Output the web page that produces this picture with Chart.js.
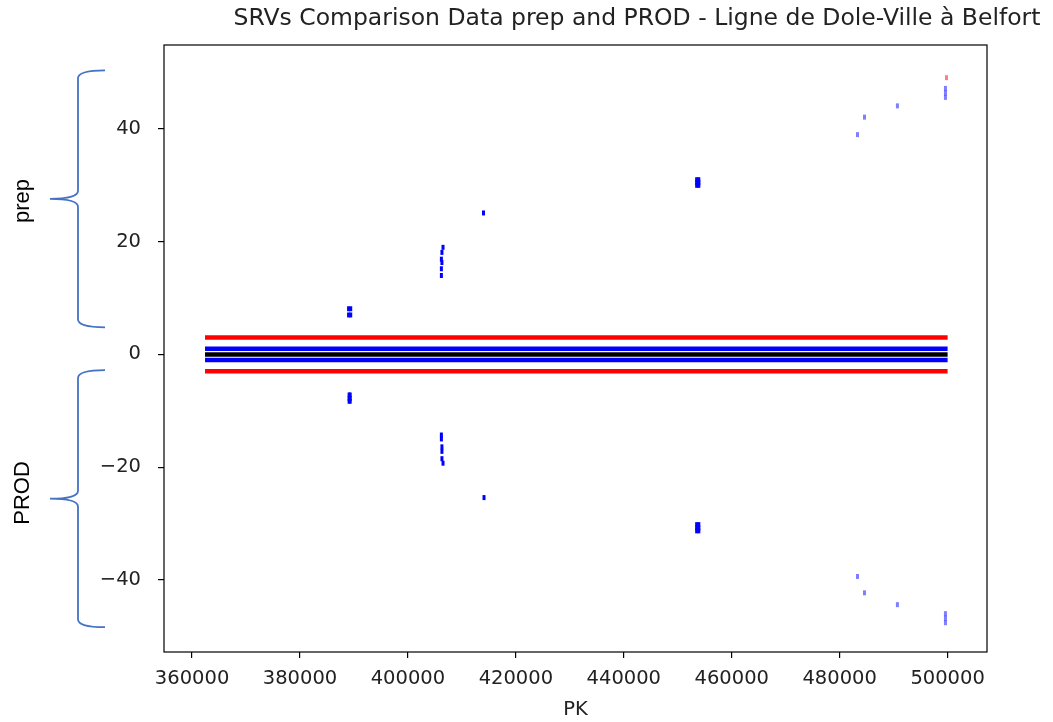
<!DOCTYPE html>
<html>
<head>
<meta charset="utf-8">
<script src="https://cdn.jsdelivr.net/npm/chart.js@4"></script>
<style>
  html, body { margin: 0; padding: 0; background: #fff; }
  #wrap { width: 1053px; height: 722px; }
</style>
</head>
<body>
<div id="wrap"><canvas id="chart" width="1053" height="722"></canvas></div>
<script>
// Data
const titleText = 'SRVs Comparison Data prep and PROD - Ligne de Dole-Ville à Belfort';
const xTicks = [360000, 380000, 400000, 420000, 440000, 460000, 480000, 500000];
const yTicks = [-40, -20, 0, 20, 40];

// reference lines spanning the line
const lineRange = [362400, 500000];
const redLevels = [3, -3];
const blueLevels = [1, -1];
const blackLevels = [0];

// SRV marks (prep above, PROD below)
const prepPK = [389000, 389400, 389000, 389400, 406500, 406300, 406200, 406300, 406200, 406200,
  414000, 453500, 453900, 453500, 453900, 453500, 453900];
const prepVal = [8.1, 8.1, 7.0, 7.0, 19.0, 18.1, 16.9, 16.3, 15.2, 14.0,
  25.1, 30.0, 30.0, 30.5, 30.5, 31.0, 31.0];
const prodPK = [389100, 389300, 389100, 389300, 389100, 389300, 406200, 406200, 406300, 406300, 406300, 406500,
  414100, 453500, 453900, 453500, 453900, 453500, 453900];
const prodVal = [-7.2, -7.2, -7.8, -7.8, -8.3, -8.3, -14.3, -15.0, -16.4, -17.2, -18.5, -19.3,
  -25.4, -30.2, -30.2, -30.8, -30.8, -31.3, -31.3];

// lighter marks at the end of the line
const lightPrepPK = [483300, 484600, 490700, 499600, 499600, 499600];
const lightPrepVal = [39.0, 42.1, 44.1, 45.6, 46.4, 47.2];
const lightProdPK = [483300, 484600, 490700, 499600, 499600, 499600];
const lightProdVal = [-39.4, -42.3, -44.4, -46.0, -46.8, -47.6];
const redMarkPK = [499800];
const redMarkVal = [49.1];

// Helpers
function toPoints(xs, ys) {
  return xs.map((x, i) => ({ x: x, y: ys[i] }));
}

function levelLine(level, color, order) {
  return {
    type: 'line',
    data: lineRange.map(x => ({ x: x, y: level })),
    borderColor: color,
    borderWidth: 4.5,
    pointRadius: 0,
    showLine: true,
    order: order,
  };
}

function marks(xs, ys, color) {
  return {
    type: 'scatter',
    data: toPoints(xs, ys),
    pointStyle: 'line',
    rotation: 90,
    radius: 2.5,
    borderWidth: 3,
    borderColor: color,
    backgroundColor: color,
    order: 0,
  };
}

const datasets = [];
redLevels.forEach(l => datasets.push(levelLine(l, '#ff0000', 3)));
blueLevels.forEach(l => datasets.push(levelLine(l, '#0000ff', 2)));
blackLevels.forEach(l => datasets.push(levelLine(l, '#000000', 1)));
datasets.push(marks(prepPK, prepVal, '#0000ff'));
datasets.push(marks(prodPK, prodVal, '#0000ff'));
datasets.push(marks(lightPrepPK, lightPrepVal, 'rgba(0,0,255,0.5)'));
datasets.push(marks(lightProdPK, lightProdVal, 'rgba(0,0,255,0.5)'));
datasets.push(marks(redMarkPK, redMarkVal, 'rgba(255,0,0,0.5)'));

// braces and labels at the left, frame and title
const decorations = {
  id: 'decorations',
  afterDraw(chart) {
    const ctx = chart.ctx;
    const area = chart.chartArea;
    const y = chart.scales.y;

    ctx.save();
    ctx.strokeStyle = '#000';
    ctx.lineWidth = 1.2;
    ctx.strokeRect(area.left, area.top, area.right - area.left, area.bottom - area.top);

    ctx.fillStyle = '#222';
    ctx.font = '23.5px "DejaVu Sans"';
    ctx.textAlign = 'center';
    ctx.textBaseline = 'middle';
    ctx.fillText(titleText, 637, 19);

    drawBrace(ctx, y.getPixelForValue(50.4), y.getPixelForValue(4.8));
    drawBrace(ctx, y.getPixelForValue(-2.8), y.getPixelForValue(-48.4));

    ctx.fillStyle = '#000';
    ctx.font = '22px "Liberation Sans"';
    drawVertical(ctx, 'prep', 23, 201);
    drawVertical(ctx, 'PROD', 23, 493);
    ctx.restore();
  },
};

function drawBrace(ctx, top, bottom) {
  const mid = (top + bottom) / 2;
  const xv = 78, xe = 105, xt = 50;
  ctx.save();
  ctx.strokeStyle = '#4472c4';
  ctx.lineWidth = 1.8;
  ctx.beginPath();
  ctx.moveTo(xe, top);
  ctx.quadraticCurveTo(xv, top, xv, top + 8);
  ctx.lineTo(xv, mid - 8);
  ctx.quadraticCurveTo(xv, mid, xt, mid);
  ctx.quadraticCurveTo(xv, mid, xv, mid + 8);
  ctx.lineTo(xv, bottom - 8);
  ctx.quadraticCurveTo(xv, bottom, xe, bottom);
  ctx.stroke();
  ctx.restore();
}

function drawVertical(ctx, text, x, y) {
  ctx.save();
  ctx.translate(x, y);
  ctx.rotate(-Math.PI / 2);
  ctx.textAlign = 'center';
  ctx.textBaseline = 'middle';
  ctx.fillText(text, 0, 0);
  ctx.restore();
}

const tickFont = { family: 'DejaVu Sans', size: 19.5 };

new Chart(document.getElementById('chart'), {
  type: 'scatter',
  data: { datasets: datasets },
  options: {
    responsive: false,
    animation: false,
    events: [],
    layout: { padding: { top: 45, right: 66, left: 0, bottom: 0 } },
    plugins: {
      legend: { display: false },
      tooltip: { enabled: false },
      title: { display: false },
    },
    scales: {
      x: {
        type: 'linear',
        min: 354800,
        max: 507300,
        afterBuildTicks: s => { s.ticks = xTicks.map(v => ({ value: v })); },
        afterFit: s => { s.height = 70; },
        grid: { drawOnChartArea: false, tickLength: 6, color: '#000', lineWidth: 1.2 },
        border: { display: false },
        ticks: { color: '#222', font: tickFont, padding: 9, maxRotation: 0, autoSkip: false,
          callback: v => String(v) },
        title: { display: true, text: 'PK', color: '#222', font: tickFont, padding: { top: 2, bottom: 0 } },
      },
      y: {
        type: 'linear',
        min: -52.8,
        max: 54.9,
        afterBuildTicks: s => { s.ticks = yTicks.map(v => ({ value: v })); },
        afterFit: s => { s.width = 164; },
        grid: { drawOnChartArea: false, tickLength: 6, color: '#000', lineWidth: 1.2 },
        border: { display: false },
        ticks: { color: '#222', font: tickFont, padding: 17,
          callback: v => String(v).replace('-', '\u2212') },
      },
    },
  },
  plugins: [decorations],
});
</script>
</body>
</html>
